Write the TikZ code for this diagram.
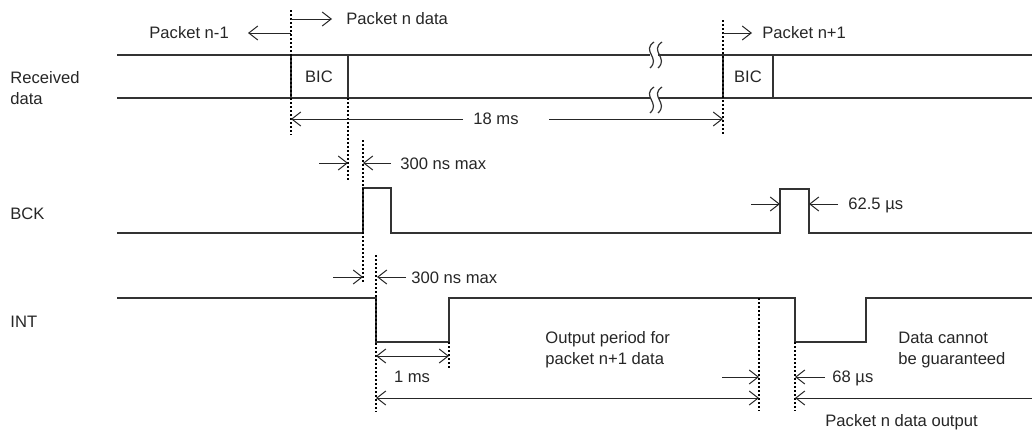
\documentclass[tikz,border=0pt]{standalone}
\usepackage{fontspec}
\setmainfont{Liberation Sans}
\usetikzlibrary{arrows.meta}

\tikzset{
    sig/.style={line width=0.6pt, black!80},
    marker/.style={line width=1pt, black, dash pattern=on 1pt off 1pt},
    dimline/.style={line width=0.5pt, black!85, -{Straight Barb[length=4.5pt,width=7pt]}},
    twoway/.style={line width=0.5pt, black!85, {Straight Barb[length=4.5pt,width=7pt]}-{Straight Barb[length=4.5pt,width=7pt]}},
    lbl/.style={font=\fontsize{8.3}{10.5}\selectfont, text=black!85, inner sep=0pt, align=left}
}

\begin{document}
\begin{tikzpicture}[x=0.5pt, y=-0.5pt]

    \useasboundingbox (0,0) rectangle (1032,434);

    % marker positions
    \coordinate (bicA) at (291,55);
    \coordinate (bicB) at (348,55);
    \coordinate (bicC) at (723,55);
    \coordinate (bicD) at (773,55);
    \coordinate (bckUp) at (363,188);
    \coordinate (intDown) at (376,298);
    \coordinate (intUp) at (449,342);
    \coordinate (intDownB) at (795,342);

    % signal names
    \node[lbl, anchor=west] (rxName) at (10,88) {Received\\data};
    \node[lbl, anchor=west] (bckName) at (10,214) {BCK};
    \node[lbl, anchor=west] (intName) at (10,322) {INT};

    % received data
    \draw[sig] (117,55) -- (650,55);
    \draw[sig] (658,55) -- (1032,55);
    \draw[sig] (117,98) -- (650,98);
    \draw[sig] (658,98) -- (1032,98);
    \foreach \y in {42,87}{
        \draw[sig] (654,\y) .. controls (641,\y+9) and (661,\y+16) .. (650,\y+26);
        \draw[sig] (662,\y) .. controls (649,\y+9) and (669,\y+16) .. (658,\y+26);
    }
    \foreach \b in {bicA,bicB,bicC,bicD}
        \draw[sig] (\b) -- ++(0,43);
    \node[lbl] (bic1) at (319,77) {BIC};
    \node[lbl] (bic2) at (748,77) {BIC};

    % BCK
    \draw[sig] (117,233) -- (363,233) -- (bckUp) -- (391,188) -- (391,233)
        -- (780,233) -- (780,189) -- (809,189) -- (809,233) -- (1032,233);

    % INT
    \draw[sig] (117,298) -- (intDown) -- (376,342) -- (intUp) -- (449,298)
        -- (795,298) -- (intDownB) -- (866,342) -- (866,298) -- (1032,298);

    % dotted markers
    \draw[marker] (291,10) -- (291,135);
    \draw[marker] (348,98) -- (348,182);
    \draw[marker] (723,20) -- (723,135);
    \draw[marker] (363,140) -- (363,283);
    \draw[marker] (376,255) -- (376,412);
    \draw[marker] (449,342) -- (449,370);
    \draw[marker] (759,298) -- (759,411);
    \draw[marker] (795,342) -- (795,411);

    % packet labels
    \draw[dimline] (291,33) -- (248,33);
    \node[lbl, anchor=west] (pktPrev) at (149,33) {Packet n-1};
    \draw[dimline] (291,19) -- (332,19);
    \node[lbl, anchor=west] (pktCur) at (346,19) {Packet n data};
    \draw[dimline] (723,33) -- (752,33);
    \node[lbl, anchor=west] (pktNext) at (762,33) {Packet n+1};

    % 18 ms
    \node[lbl] (period) at (496,119) {18 ms};
    \draw[dimline] (463,119) -- (291,119);
    \draw[dimline] (549,119) -- (723,119);

    % 300 ns max, BIC to BCK
    \draw[dimline] (319,163) -- (348,163);
    \draw[dimline] (391,163) -- (363,163);
    \node[lbl, anchor=west] (delayA) at (400,164) {300 ns max};

    % 300 ns max, BCK to INT
    \draw[dimline] (333,277) -- (363,277);
    \draw[dimline] (406,277) -- (377,277);
    \node[lbl, anchor=west] (delayB) at (411,278) {300 ns max};

    % 62.5 us
    \draw[dimline] (751,204) -- (780,204);
    \draw[dimline] (838,204) -- (809,204);
    \node[lbl, anchor=west] (bckWidth) at (848,205) {62.5 µs};

    % 1 ms
    \draw[twoway] (376,356) -- (449,356);
    \node[lbl] (intWidth) at (412,377) {1 ms};

    % output period
    \node[lbl, anchor=west] (outText) at (545,350) {Output period for\\packet n+1 data};
    \draw[twoway] (376,398) -- (759,398);

    % 68 us
    \draw[dimline] (722,377) -- (759,377);
    \draw[dimline] (825,377) -- (795,377);
    \node[lbl, anchor=west] (gapWidth) at (832,378) {68 µs};
    \draw[dimline] (1032,398) -- (795,398);

    \node[lbl, anchor=west] (noData) at (898,350) {Data cannot\\be guaranteed};
    \node[lbl, anchor=west] (pktOut) at (825,422) {Packet n data output};

\end{tikzpicture}
\end{document}
